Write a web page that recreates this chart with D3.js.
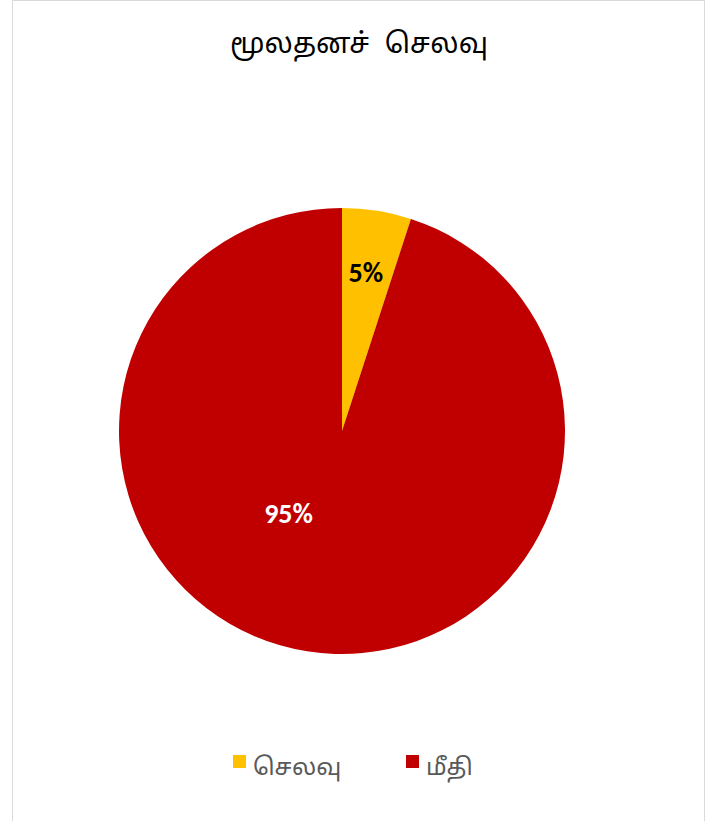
<!DOCTYPE html>
<html lang="ta">
<head>
<meta charset="UTF-8">
<title>மூலதனச் செலவு</title>
<script src="https://d3js.org/d3.v7.min.js"></script>
<style>
  body { margin: 0; background: #fff; }
  svg { display: block; }
  .title { font-family: "Noto Sans Tamil", "Noto Sans", sans-serif; font-size: 28px; word-spacing: 8px; fill: #000; }
  .legend text { font-family: "Noto Sans Tamil", "Noto Sans", sans-serif; font-size: 24px; fill: #595959; }
  .label { font-family: Calibri, Carlito, "Open Sans", "Noto Sans", sans-serif; font-weight: bold; font-size: 28px; }
</style>
</head>
<body>
<svg width="715" height="821"></svg>
<script>
// data
const categories = ["செலவு", "மீதி"];
const values = [5, 95];
const colors = ["#FFC000", "#C00000"];
const labelColors = ["#000000", "#FFFFFF"];
const titleText = "மூலதனச் செலவு";

const width = 715, height = 821;
const svg = d3.select("svg");

// chart border
svg.append("path")
  .attr("d", `M12.5,${height} V0.5 H704.5 V${height}`)
  .attr("fill", "none")
  .attr("stroke", "#d9d9d9")
  .attr("stroke-width", 1);

svg.append("text")
  .attr("class", "title")
  .attr("x", 359)
  .attr("y", 53)
  .attr("text-anchor", "middle")
  .text(titleText);

const cx = 342, cy = 431, radius = 223;
const data = categories.map((c, i) => ({ cat: c, value: values[i], color: colors[i], lc: labelColors[i] }));

const pie = d3.pie().value(d => d.value).sort(null);
const arc = d3.arc().innerRadius(0).outerRadius(radius);
const arcs = pie(data);

const g = svg.append("g").attr("transform", `translate(${cx},${cy})`);
g.selectAll("path.slice")
  .data(arcs)
  .join("path")
  .attr("class", "slice")
  .attr("d", arc)
  .attr("fill", d => d.data.color);

// label placement: fraction of radius and angle offset from mid-angle (degrees)
const labelPlace = [{ r: 0.72, off: -0.5 }, { r: 0.44, off: 24 }];
const total = d3.sum(values);
g.selectAll("text.label")
  .data(arcs)
  .join("text")
  .attr("class", "label")
  .attr("text-anchor", "middle")
  .attr("dominant-baseline", "central")
  .attr("fill", d => d.data.lc)
  .attr("transform", (d, i) => {
    const a = (d.startAngle + d.endAngle) / 2 + labelPlace[i].off * Math.PI / 180;
    const r = radius * labelPlace[i].r;
    return `translate(${r * Math.sin(a)},${-r * Math.cos(a)})`;
  })
  .text(d => Math.round(d.data.value / total * 100) + "%");

// legend
const legendX = d3.scalePoint().domain(categories).range([233, 406]);
const lg = svg.append("g").attr("class", "legend");
const item = lg.selectAll("g")
  .data(data)
  .join("g")
  .attr("transform", d => `translate(${legendX(d.cat)},755)`);
item.append("rect")
  .attr("width", 13).attr("height", 13)
  .attr("fill", d => d.color);
item.append("text")
  .attr("x", 20)
  .attr("y", 20)
  .text(d => d.cat);
</script>
</body>
</html>
